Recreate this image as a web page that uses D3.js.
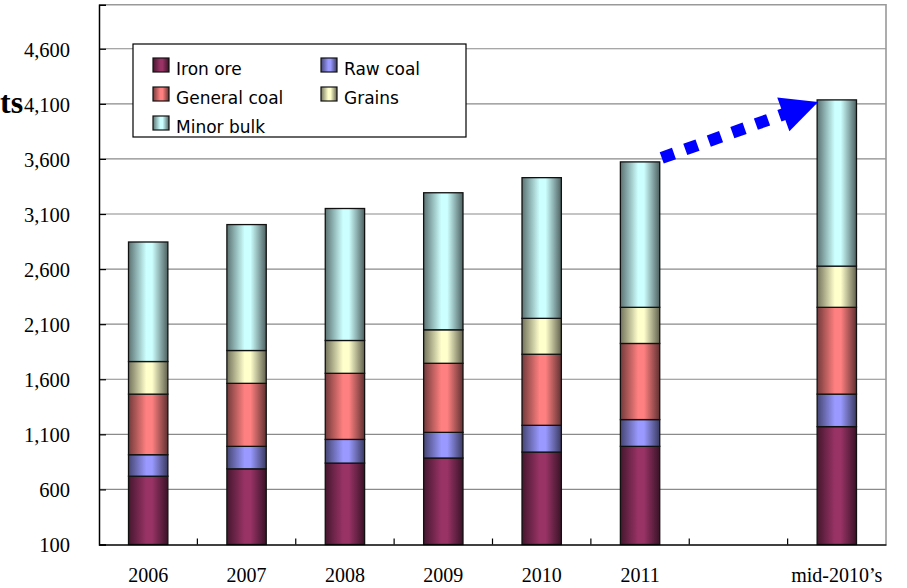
<!DOCTYPE html>
<html>
<head>
<meta charset="utf-8">
<script src="https://cdn.jsdelivr.net/npm/d3@7"></script>
<style>
  html, body { margin: 0; padding: 0; background: #fff; }
  svg { display: block; }
</style>
</head>
<body>
<svg id="chart" width="907" height="588"></svg>
<script>
// ---- Data ----
const categories = ["2006", "2007", "2008", "2009", "2010", "2011", "", "mid-2010\u2019s"];
const ironOre     = [720, 787, 839, 885, 939, 991, null, 1170];
const rawCoal     = [195, 204, 215, 233, 243, 243, null, 295];
const generalCoal = [550, 572, 600, 627, 645, 691, null, 788];
const grains      = [296, 298, 298, 304, 326, 328, null, 374];
const minorBulk   = [1085, 1143, 1198, 1244, 1277, 1320, null, 1509];
const seriesNames = ["Iron ore", "Raw coal", "General coal", "Grains", "Minor bulk"];
const seriesColors = ["#993366", "#9999FF", "#FF8080", "#FFFFCC", "#CCFFFF"];
const yTicks = [100, 600, 1100, 1600, 2100, 2600, 3100, 3600, 4100, 4600];
const yDomain = [100, 5000];

// ---- Layout ----
const svg = d3.select("#chart");
const plot = { left: 99, right: 886, top: 4.7, bottom: 544.5 };

const x = d3.scaleBand().domain(categories)
  .range([plot.left, plot.right]).paddingInner(0.6).paddingOuter(0.3);
const y = d3.scaleLinear().domain(yDomain).range([plot.bottom, plot.top]).clamp(true);

// gradients
const defs = svg.append("defs");
seriesColors.forEach((c, i) => {
  const dark = d3.interpolateRgb(c, "#000")(0.55);
  const dark2 = d3.interpolateRgb(c, "#000")(0.62);
  const g = defs.append("linearGradient").attr("id", "g" + i)
    .attr("x1", "0").attr("x2", "1").attr("y1", "0").attr("y2", "0");
  g.append("stop").attr("offset", "0%").attr("stop-color", dark);
  g.append("stop").attr("offset", "45%").attr("stop-color", c);
  g.append("stop").attr("offset", "60%").attr("stop-color", c);
  g.append("stop").attr("offset", "100%").attr("stop-color", dark2);
});

// gridlines
svg.append("g").selectAll("line").data(yTicks.filter(t => t > yDomain[0]))
  .join("line")
  .attr("x1", plot.left).attr("x2", plot.right)
  .attr("y1", d => y(d)).attr("y2", d => y(d))
  .attr("stroke", "#8a8a8a").attr("stroke-width", 1.2);

// top & right border
svg.append("path")
  .attr("d", `M${plot.left},${plot.top}H${plot.right}V${plot.bottom}`)
  .attr("fill", "none").attr("stroke", "#999").attr("stroke-width", 1.6);

// stacked data
const rows = categories.map((c, i) => ({
  cat: c,
  "Iron ore": ironOre[i], "Raw coal": rawCoal[i], "General coal": generalCoal[i],
  "Grains": grains[i], "Minor bulk": minorBulk[i]
}));
const stacked = d3.stack().keys(seriesNames).value((d, k) => d[k] || 0)(rows);

const bars = svg.append("g");
stacked.forEach((layer, si) => {
  bars.append("g").selectAll("rect")
    .data(layer.filter(d => d.data[seriesNames[si]] != null))
    .join("rect")
    .attr("x", d => x(d.data.cat))
    .attr("width", x.bandwidth())
    .attr("y", d => y(d[1]))
    .attr("height", d => y(d[0]) - y(d[1]))
    .attr("fill", `url(#g${si})`)
    .attr("stroke", "#111").attr("stroke-width", 1.3);
});

// axes lines (left & bottom)
const yAxis = d3.axisLeft(y).tickValues(yTicks).tickSize(-7).tickFormat(d3.format(","));
const yg = svg.append("g").attr("transform", `translate(${plot.left},0)`).call(yAxis);
yg.select(".domain").attr("stroke", "#000").attr("stroke-width", 1.5);
yg.selectAll(".tick line").attr("stroke", "#000").attr("stroke-width", 1.2);
yg.selectAll(".tick text")
  .attr("x", -29).attr("dy", "0.36em")
  .attr("font-family", "'Liberation Serif', 'Times New Roman', serif")
  .attr("font-size", 20.5).attr("fill", "#000");

const xAxis = d3.axisBottom(x).tickSize(0).tickFormat(d => d);
const xg = svg.append("g").attr("transform", `translate(0,${plot.bottom})`).call(xAxis);
xg.select(".domain").attr("stroke", "#000").attr("stroke-width", 1.5);
xg.selectAll(".tick text")
  .attr("y", 37.5).attr("dy", "0")
  .attr("font-family", "'Liberation Serif', 'Times New Roman', serif")
  .attr("font-size", 20).attr("fill", "#000");

// category boundary ticks (inside)
const step = x.step();
svg.append("g").selectAll("line")
  .data(categories.slice(1))
  .join("line")
  .attr("x1", (d) => x(d) - (step - x.bandwidth()) / 2)
  .attr("x2", (d) => x(d) - (step - x.bandwidth()) / 2)
  .attr("y1", plot.bottom).attr("y2", plot.bottom - 6)
  .attr("stroke", "#000").attr("stroke-width", 1.2);

// legend
const legend = svg.append("g");
legend.append("rect").attr("x", 133).attr("y", 44).attr("width", 333).attr("height", 93)
  .attr("fill", "#fff").attr("stroke", "#000").attr("stroke-width", 1.2);
const legendPos = [
  [153, 75], [321, 75], [153, 104], [321, 104], [153, 133]
];
seriesNames.forEach((name, si) => {
  const [lx, ly] = legendPos[si];
  legend.append("rect").attr("x", lx).attr("y", ly - 17).attr("width", 16).attr("height", 14)
    .attr("fill", `url(#g${si})`).attr("stroke", "#111").attr("stroke-width", 1.2);
  legend.append("text").attr("x", lx + 23).attr("y", ly)
    .attr("font-family", "'DejaVu Sans', sans-serif").attr("font-size", 17)
    .attr("fill", "#000").text(name);
});

// arrow from 2011 to mid-2010's
const total = i => ironOre[i] + rawCoal[i] + generalCoal[i] + grains[i] + minorBulk[i];
const iA = 5, iB = 7;
const sx = x(categories[iA]) + x.bandwidth() + 2, sy = y(total(iA)) - 4;
const tx = x(categories[iB]) + 1, ty = y(total(iB)) + 2;
const dx = tx - sx, dy = ty - sy, len = Math.hypot(dx, dy);
const ux = dx / len, uy = dy / len, px = -uy, py = ux;
const headLen = 37, headHalf = 18;
const bx = tx - ux * headLen, by = ty - uy * headLen;
svg.append("line")
  .attr("x1", sx).attr("y1", sy).attr("x2", bx + ux * 4).attr("y2", by + uy * 4)
  .attr("stroke", "#0000FF").attr("stroke-width", 12)
  .attr("stroke-dasharray", "13,12");
svg.append("path")
  .attr("d", `M${tx},${ty}L${bx + px * headHalf},${by + py * headHalf}L${bx - px * headHalf},${by - py * headHalf}Z`)
  .attr("fill", "#0000FF");

// clipped title fragment at left
svg.append("text").attr("x", 0).attr("y", 113)
  .attr("font-family", "'Liberation Serif', 'Times New Roman', serif")
  .attr("font-weight", "bold").attr("font-size", 32).attr("fill", "#000")
  .text("ts");
</script>
</body>
</html>
